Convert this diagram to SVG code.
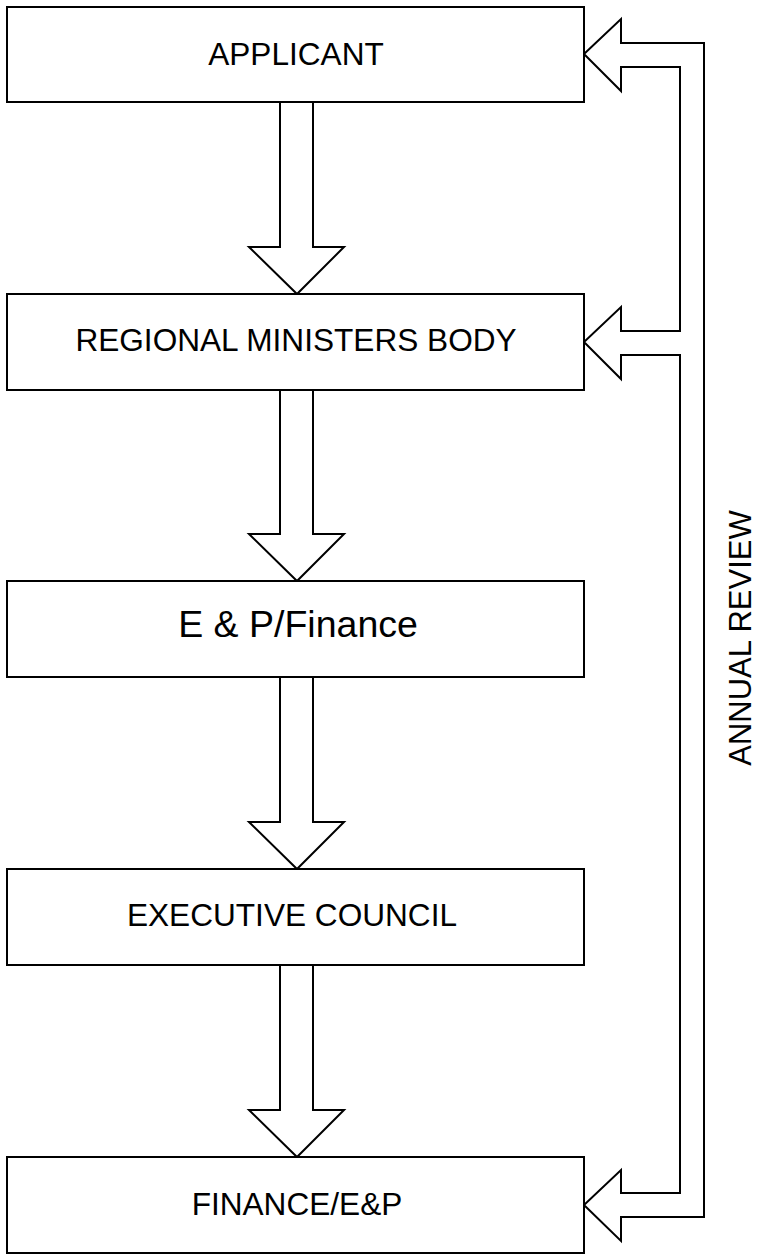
<svg xmlns="http://www.w3.org/2000/svg" width="759" height="1257" viewBox="0 0 759 1257">
<style>
.box{fill:#fff;stroke:#000;stroke-width:2}
.arr{fill:#fff;stroke:#000;stroke-width:2;stroke-linejoin:miter}
.lbl{font-family:"Liberation Sans",Arial,sans-serif;font-size:31.6px;fill:#000;text-anchor:middle}
</style>
<rect width="759" height="1257" fill="#fff"/>
<g id="connectors">
<polyline class="arr" points="280,102 280,247 249,247 297,294 344,247 313,247 313,102"/>
<polyline class="arr" points="280,390 280,534 249,534 297,581 344,534 313,534 313,390"/>
<polyline class="arr" points="280,677 280,822 249,822 297,869 344,822 313,822 313,677"/>
<polyline class="arr" points="280,965 280,1110 249,1110 297,1157 344,1110 313,1110 313,965"/>
<path id="annual-review-loop" class="arr" d="M584,54 L621,19 L621,43 L704,43 L704,1217 L621,1217 L621,1241 L584,1205 L621,1170 L621,1193 L680,1193 L680,355 L621,355 L621,379 L584,342 L621,307 L621,331 L680,331 L680,67 L621,67 L621,91 Z"/>
<text class="lbl" transform="translate(751,638) rotate(-90)" style="font-size:31px">ANNUAL REVIEW</text>
</g>
<g id="applicant"><rect class="box" x="7" y="7" width="577" height="95"/><text class="lbl" x="296" y="65">APPLICANT</text></g>
<g id="regional"><rect class="box" x="7" y="294" width="577" height="96"/><text class="lbl" x="296" y="351">REGIONAL MINISTERS BODY</text></g>
<g id="ep-finance"><rect class="box" x="7" y="581" width="577" height="96"/><text class="lbl" x="298" y="637" style="font-size:37.5px">E &amp; P/Finance</text></g>
<g id="executive"><rect class="box" x="7" y="869" width="577" height="96"/><text class="lbl" x="292" y="926">EXECUTIVE COUNCIL</text></g>
<g id="finance-ep"><rect class="box" x="7" y="1157" width="577" height="96"/><text class="lbl" x="297" y="1215">FINANCE/E&amp;P</text></g>
</svg>
